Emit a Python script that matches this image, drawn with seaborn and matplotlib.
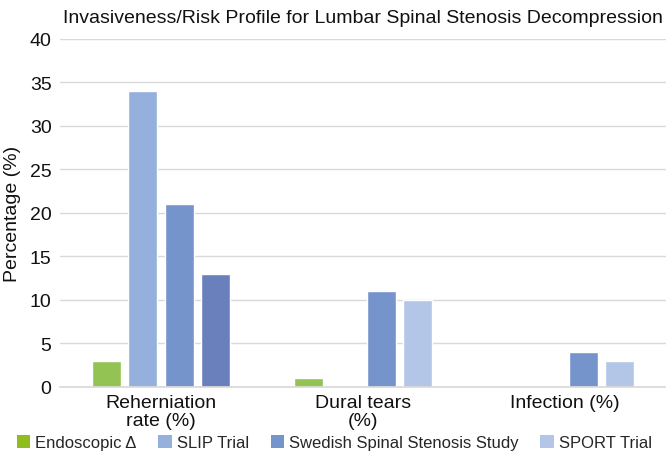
import numpy as np
import pandas as pd
import seaborn as sns
import matplotlib.pyplot as plt
from matplotlib.patches import Patch

# Chart data
categories = ['Reherniation\nrate (%)', 'Dural tears\n(%)', 'Infection (%)']
series = ['Endoscopic \u0394', 'SLIP Trial', 'Swedish Spinal Stenosis Study', 'SPORT Trial']
endoscopic = [3, 1, np.nan]
slip_trial = [34, np.nan, np.nan]
swedish = [21, 11, 4]
sport = [13, 10, 3]

colors = ['#92c353', '#95b0dc', '#7594cb', '#b4c6e7']
legend_colors = ['#8fbc1e', '#95b0dc', '#7594cb', '#b4c6e7']
highlight_color = '#6a80bd'  # the 4th reherniation bar is drawn darker

rows = []
for name, vals in zip(series, [endoscopic, slip_trial, swedish, sport]):
    for cat, v in zip(categories, vals):
        rows.append({'Category': cat, 'Study': name, 'Value': v})
df = pd.DataFrame(rows)

sns.set_theme(style='white')
plt.rcParams['font.family'] = ['Liberation Sans', 'DejaVu Sans']

fig = plt.figure(figsize=(6.66, 4.64), dpi=100)
ax = fig.add_axes([0.09, 0.164, 0.91, 0.75])

sns.barplot(data=df, x='Category', y='Value', hue='Study', order=categories,
            hue_order=series, palette=colors, width=0.723, gap=0.2,
            saturation=1, legend=False, ax=ax)

# recolour the odd bar
ax.containers[3].patches[0].set_facecolor(highlight_color)

ax.set_ylim(0, 40)
ax.set_yticks(range(0, 41, 5))
ax.set_xlim(-0.5, 2.5)
ax.yaxis.grid(True, color='#d9d9d9', linewidth=1)
ax.set_axisbelow(True)
for side in ['top', 'right', 'left']:
    ax.spines[side].set_visible(False)
ax.spines['bottom'].set_color('#d9d9d9')
ax.tick_params(axis='both', length=0, labelsize=14, colors='#111111')
ax.tick_params(axis='y', pad=6)
ax.tick_params(axis='x', pad=5)
for lbl in ax.get_xticklabels():
    lbl.set_linespacing(1.1)
ax.set_xlabel('')
ax.set_ylabel('Percentage (%)', fontsize=14, color='#111111')
ax.yaxis.set_label_coords(-0.064, 0.5)
ax.set_title('Invasiveness/Risk Profile for Lumbar Spinal Stenosis Decompression',
             fontsize=14, color='#111111', pad=12)

handles = [Patch(facecolor=c, edgecolor='none') for c in legend_colors]
fig.legend(handles, series, loc='lower center', bbox_to_anchor=(0.502, -0.005),
           ncol=4, frameon=False, fontsize=12, handlelength=0.8,
           handleheight=0.8, handletextpad=0.3, columnspacing=1.3)

fig.savefig('out.png', dpi=100, facecolor='white')
